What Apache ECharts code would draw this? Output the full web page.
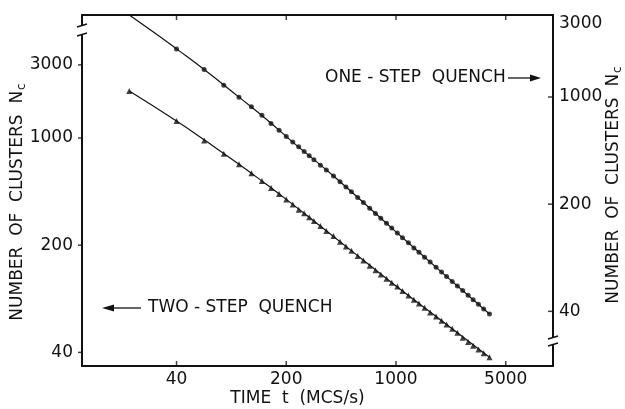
<!DOCTYPE html>
<html>
<head>
<meta charset="utf-8">
<script src="https://cdn.jsdelivr.net/npm/echarts@6/dist/echarts.min.js"></script>
<style>
  html, body { margin: 0; padding: 0; background: #fff; }
  #chart { width: 625px; height: 409px; }
</style>
</head>
<body>
<div id="chart"></div>
<script>
// tick labels
const timeTicks = [40, 200, 1000, 5000]
const leftTicks = [40, 200, 1000, 3000]
const rightTicks = [40, 200, 1000, 3000]
const rightTickMarks = [40, 200, 1000]

// two-step quench (left axis), triangles
const twoStepT = [20, 40, 60, 80, 100, 120, 140, 160, 180, 200, 220, 240, 260, 280, 300, 330, 360, 400, 440, 480,
  520, 570, 620, 680, 740, 800, 870, 940, 1020, 1100, 1200, 1300, 1400, 1520, 1650, 1800, 1950, 2100, 2280, 2460,
  2660, 2880, 3100, 3350, 3620, 3940]
const twoStepN = [2028, 1293, 965, 790, 675, 589, 524, 473, 432, 398, 369, 341, 323, 304, 288, 267, 248, 230, 211, 196,
  184, 170, 159, 147, 137.5, 129, 121, 113.8, 107.5, 100.6, 94, 88.3, 83.4, 78.2, 72.8, 68.5, 64.4, 60.8, 57, 53.7,
  49.9, 46.8, 44.2, 41.8, 39.5, 37.2]

// one-step quench (right axis), dots
const oneStepT = [40, 60, 80, 100, 120, 140, 160, 180, 200, 220, 240, 260, 280, 300, 330, 360, 400, 440, 480,
  520, 570, 620, 680, 740, 800, 870, 940, 1020, 1100, 1200, 1300, 1400, 1520, 1650, 1800, 1950, 2100, 2280, 2460,
  2660, 2880, 3100, 3350, 3620, 3940]
const oneStepN = [2060, 1511, 1195, 998, 864, 759, 673, 607, 552, 508, 473, 441, 414, 390, 359, 334, 305, 280, 259,
  241, 221, 205, 188, 174, 162, 150, 139.6, 129.8, 121, 111.9, 103.7, 97.1, 90.2, 83.8, 77.5, 72.1, 67.5, 62.7, 58.6,
  54.6, 50.9, 47.6, 44.5, 41.5, 38.4]

// fitted curves
const twoFitT = [20, 40, 60, 100, 150, 200, 300, 500, 1000, 2000, 3940]
const twoFitN = [2028, 1293, 973, 675, 497, 398, 288, 190, 108.4, 63.1, 37.2]
const oneFitT = [20, 30, 40, 60, 100, 150, 220, 400, 1000, 2000, 3940]
const oneFitN = [3430, 2556, 2060, 1511, 998, 714, 508, 305, 132, 70.5, 38.4]

const T_MIN = 10, T_MAX = 10000
const L_MIN = 32.6, L_MAX = 6346
const R_MIN = 17.6, R_MAX = 3427

const pairs = (xs, ys) => xs.map((x, i) => [x, ys[i]])
const FONT = 'DejaVu Sans'
const INK = '#111'

const chart = echarts.init(document.getElementById('chart'))

const axisText = { color: INK, fontFamily: FONT, fontSize: 17, formatter: v => String(v) }
const nameText = {
  color: INK, fontFamily: FONT, fontSize: 17,
  rich: { s: { fontSize: 12, fontFamily: FONT, color: INK, padding: [9, 0, 0, 1] } }
}
const plainLine = { lineStyle: { color: INK, width: 2 } }

// tick marks are drawn as tiny rect symbols at the tick values
function tickSeries(data, yIdx, size, offset) {
  return {
    type: 'scatter', xAxisIndex: 0, yAxisIndex: yIdx, data: data,
    symbol: 'rect', symbolSize: size, symbolOffset: offset,
    itemStyle: { color: INK }, silent: true, clip: false, z: 3
  }
}

chart.setOption({
  animation: false,
  grid: { left: 82, right: 72, top: 15, bottom: 43, outerBoundsMode: 'none' },
  xAxis: [{
    type: 'log', min: T_MIN, max: T_MAX,
    name: 'TIME  t  (MCS/s)', nameLocation: 'middle', nameGap: 24, nameMoveOverlap: false,
    nameTextStyle: Object.assign({ padding: [0, 40, 0, 0] }, nameText),
    axisLine: plainLine,
    axisTick: { show: false },
    axisLabel: Object.assign({ margin: 5, customValues: timeTicks }, axisText),
    minorTick: { show: false }, splitLine: { show: false }
  }, {
    type: 'log', min: T_MIN, max: T_MAX, position: 'top',
    axisLine: plainLine,
    axisTick: { show: false },
    axisLabel: { show: false },
    splitLine: { show: false }
  }],
  yAxis: [{
    type: 'log', min: L_MIN, max: L_MAX, position: 'left',
    name: 'NUMBER  OF  CLUSTERS  N{s|c}', nameLocation: 'middle', nameGap: 54, nameRotate: 90,
    nameMoveOverlap: false,
    nameTextStyle: Object.assign({ padding: [0, 23, 0, 0] }, nameText),
    axisLine: plainLine,
    axisTick: { show: false },
    axisLabel: Object.assign({ margin: 9, customValues: leftTicks }, axisText),
    splitLine: { show: false }
  }, {
    type: 'log', min: R_MIN, max: R_MAX, position: 'right',
    name: 'NUMBER  OF  CLUSTERS  N{s|c}', nameLocation: 'middle', nameGap: 50, nameRotate: 90,
    nameMoveOverlap: false,
    nameTextStyle: Object.assign({ padding: [0, 0, 0, 11] }, nameText),
    axisLine: plainLine,
    axisTick: { show: false },
    axisLabel: Object.assign({ margin: 6, customValues: rightTicks }, axisText),
    splitLine: { show: false }
  }],
  series: [{
    name: 'two-step fit', type: 'line', xAxisIndex: 0, yAxisIndex: 0,
    data: pairs(twoFitT, twoFitN), smooth: true, symbol: 'none',
    lineStyle: { color: INK, width: 1.2 }
  }, {
    name: 'two-step', type: 'scatter', xAxisIndex: 0, yAxisIndex: 0,
    data: pairs(twoStepT, twoStepN), symbol: 'triangle', symbolSize: 6,
    itemStyle: { color: INK }
  }, {
    name: 'one-step fit', type: 'line', xAxisIndex: 0, yAxisIndex: 1,
    data: pairs(oneFitT, oneFitN), smooth: true, symbol: 'none',
    lineStyle: { color: INK, width: 1.2 }
  }, {
    name: 'one-step', type: 'scatter', xAxisIndex: 0, yAxisIndex: 1,
    data: pairs(oneStepT, oneStepN), symbol: 'circle', symbolSize: 5,
    itemStyle: { color: INK }
  },
  tickSeries(timeTicks.map(t => [t, L_MIN]), 0, [1.5, 5], [0, -2.5]),
  tickSeries(timeTicks.map(t => [t, L_MAX]), 0, [1.5, 5], [0, 2.5]),
  tickSeries(leftTicks.map(v => [T_MIN, v]), 0, [4, 1.5], [-2, 0]),
  tickSeries(rightTickMarks.map(v => [T_MAX, v]), 1, [5, 1.5], [-2.5, 0])
  ],
  graphic: [
    { type: 'text', z: 100, style: { text: 'ONE - STEP  QUENCH', x: 325, y: 78, verticalAlign: 'middle', font: '17px "DejaVu Sans"', fill: INK } },
    { type: 'line', z: 100, shape: { x1: 508, y1: 78, x2: 532, y2: 78 }, style: { stroke: INK, lineWidth: 1.3 } },
    { type: 'polygon', z: 100, shape: { points: [[541, 78], [530, 74.5], [530, 81.5]] }, style: { fill: INK } },
    { type: 'text', z: 100, style: { text: 'TWO - STEP  QUENCH', x: 148, y: 308, verticalAlign: 'middle', font: '17px "DejaVu Sans"', fill: INK } },
    { type: 'line', z: 100, shape: { x1: 112, y1: 308, x2: 141, y2: 308 }, style: { stroke: INK, lineWidth: 1.3 } },
    { type: 'polygon', z: 100, shape: { points: [[102, 308], [114, 304.5], [114, 311.5]] }, style: { fill: INK } },
    // axis breaks
    { type: 'rect', z: 100, shape: { x: 79, y: 26, width: 6, height: 9 }, style: { fill: '#fff' } },
    { type: 'line', z: 101, shape: { x1: 77, y1: 27, x2: 87, y2: 24 }, style: { stroke: INK, lineWidth: 1.5 } },
    { type: 'line', z: 101, shape: { x1: 77, y1: 36, x2: 87, y2: 33 }, style: { stroke: INK, lineWidth: 1.5 } },
    { type: 'rect', z: 100, shape: { x: 550, y: 338, width: 6, height: 7 }, style: { fill: '#fff' } },
    { type: 'line', z: 101, shape: { x1: 548, y1: 339, x2: 558, y2: 336 }, style: { stroke: INK, lineWidth: 1.5 } },
    { type: 'line', z: 101, shape: { x1: 548, y1: 346, x2: 558, y2: 343 }, style: { stroke: INK, lineWidth: 1.5 } }
  ]
})
</script>
</body>
</html>
